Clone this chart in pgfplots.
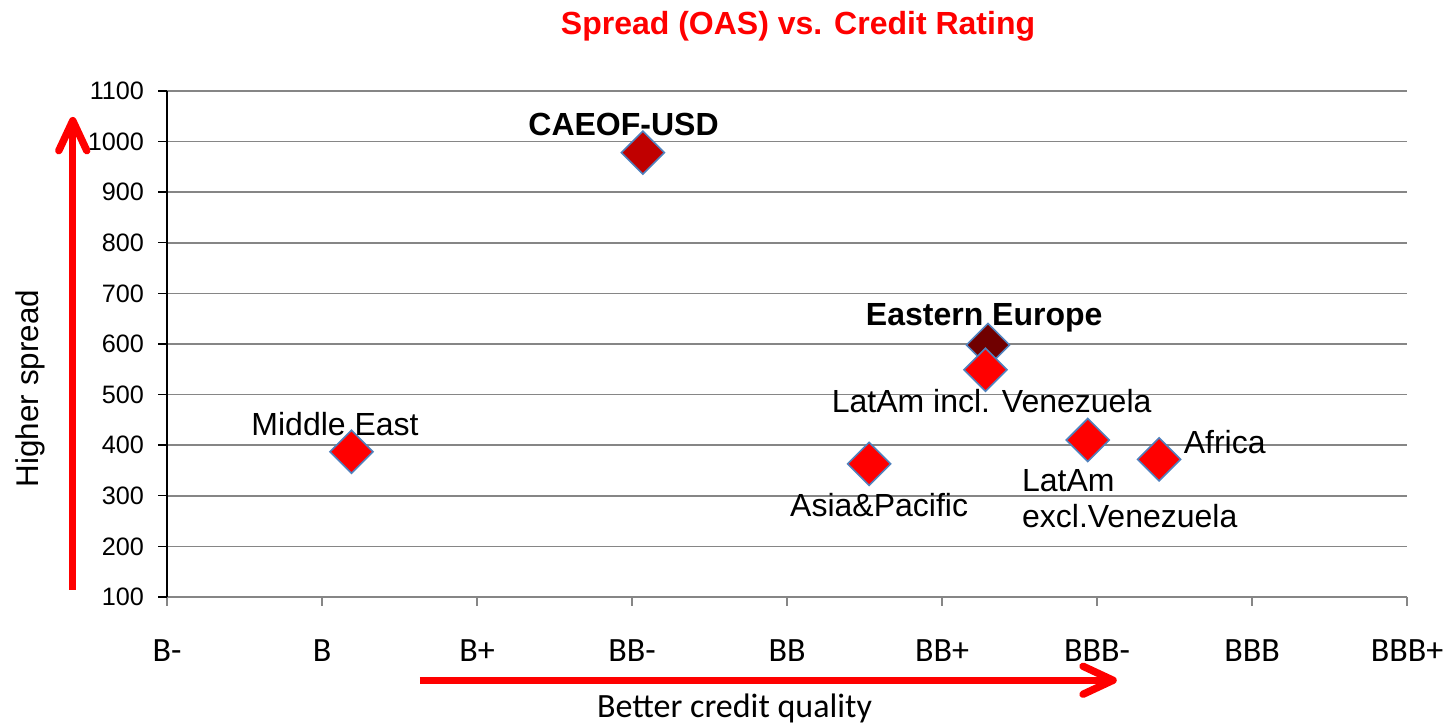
\documentclass[border=0pt]{standalone}
\usepackage{pgfplots}
\pgfplotsset{compat=1.18}
\usepackage{fontspec}
\setmainfont{Liberation Sans}
\newfontfamily\calfont{Carlito}
\usetikzlibrary{arrows.meta}
\definecolor{gridgray}{RGB}{134,134,134}
\definecolor{edgeblue}{RGB}{79,129,189}
\definecolor{darkred1}{RGB}{192,0,0}
\definecolor{maroon1}{RGB}{112,0,0}
\newcommand{\lab}{\fontsize{16}{19}\selectfont}
\begin{document}
\begin{tikzpicture}
\begin{axis}[
  scale only axis, width=620pt, height=253pt,
  xmin=0, xmax=8, ymin=100, ymax=1100,
  axis lines*=left,
  x axis line style={draw=gridgray, line width=0.8pt},
  y axis line style={draw=black, line width=0.7pt},
  xtick={0,1,...,8},
  xticklabels={B-,B,B+,BB-,BB,BB+,BBB-,BBB,BBB+},
  ytick={100,200,...,1100},
  ymajorgrids, grid style={draw=gridgray, line width=0.8pt},
  tick align=outside,
  major tick length=4.5pt,
  xtick style={draw=gridgray, line width=0.8pt},
  ytick style={draw=black, line width=0.7pt},
  /pgf/number format/assume math mode=true,
  /pgf/number format/1000 sep={},
  yticklabel style={font=\fontsize{12.6}{15}\selectfont, xshift=-3.5pt},
  xticklabel style={font=\calfont\fontsize{17}{20}\selectfont, anchor=base, yshift=-28pt},
  clip=false,
]
\addplot[only marks, mark=square*, mark size=7.6pt, mark options={rotate=45, fill=maroon1, draw=edgeblue, line width=0.8pt}] coordinates {(5.297,598)};
\addplot[only marks, mark=square*, mark size=7.6pt, mark options={rotate=45, fill=darkred1, draw=edgeblue, line width=0.8pt}] coordinates {(3.07,978)};
\addplot[only marks, mark=square*, mark size=7.6pt, mark options={rotate=45, fill=red, draw=edgeblue, line width=0.8pt}] coordinates {(1.19,387) (4.53,363) (5.28,549) (5.94,410) (6.40,372)};

\node[anchor=base, inner sep=0, font=\bfseries\lab] at (axis cs:2.945,1011) {CAEOF-USD};
\node[anchor=base, inner sep=0, font=\lab] at (axis cs:1.084,420) {Middle East};
\node[anchor=base, inner sep=0, font=\bfseries\lab] at (axis cs:5.272,636) {Eastern Europe};
\node[anchor=base, inner sep=0, font=\lab] at (axis cs:5.32,464) {LatAm incl. Venezuela};
\node[anchor=base, inner sep=0, font=\lab] at (axis cs:4.594,259) {Asia\&Pacific};
\node[anchor=base west, inner sep=0, font=\lab] at (axis cs:5.514,308) {LatAm};
\node[anchor=base west, inner sep=0, font=\lab] at (axis cs:5.514,238) {excl.Venezuela};
\node[anchor=base west, inner sep=0, font=\lab] at (axis cs:6.557,384) {Africa};

\node[anchor=base, inner sep=0, text=red, font=\bfseries\fontsize{16}{19}\selectfont] at (rel axis cs:0.5089,1.1107) {Spread (OAS) vs. Credit Rating};
\node[anchor=base, rotate=90, inner sep=0, font=\fontsize{15.7}{19}\selectfont] at (rel axis cs:-0.104,0.412) {Higher spread};
\node[anchor=base, inner sep=0, font=\calfont\fontsize{17}{20}\selectfont] at (rel axis cs:0.4577,-0.239) {Better credit quality};

\draw[red, line width=3.7pt, -{Straight Barb[length=15pt,width=14pt,round]}] (rel axis cs:-0.076,0.0138) -- (rel axis cs:-0.076,0.9486);
\draw[red, line width=3.7pt, -{Straight Barb[length=15pt,width=14pt,round]}] (rel axis cs:0.204,-0.1646) -- (rel axis cs:0.7659,-0.1646);

\coordinate (bbsw) at (rel axis cs:-0.1347,-0.253);
\coordinate (bbne) at (rel axis cs:1.0298,1.1798);
\end{axis}
\pgfresetboundingbox
\path[use as bounding box] (bbsw) rectangle (bbne);
\end{tikzpicture}
\end{document}
